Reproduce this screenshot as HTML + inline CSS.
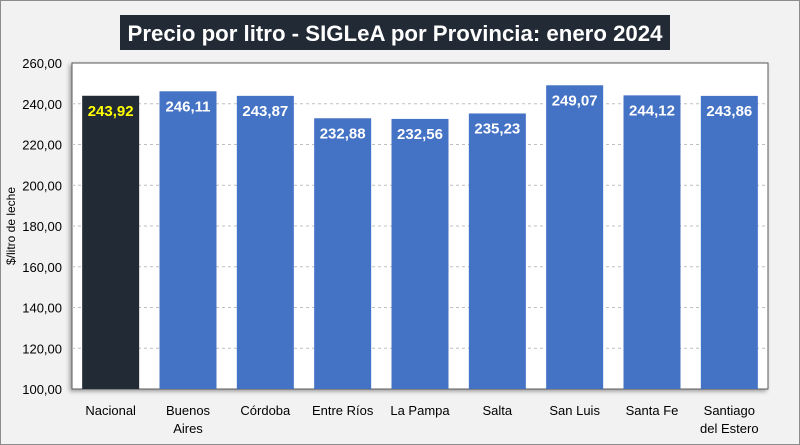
<!DOCTYPE html>
<html><head><meta charset="utf-8"><style>
body{margin:0;background:#fff}
svg{display:block;font-family:"Liberation Sans",Arial,sans-serif}
</style></head><body>
<svg width="800" height="445" viewBox="0 0 800 445">
<defs><filter id="sh" x="-5%" y="-5%" width="110%" height="110%"><feDropShadow dx="-2" dy="2" stdDeviation="2" flood-color="#000" flood-opacity="0.35"/></filter></defs>
<rect x="0.5" y="0.5" width="799" height="444" fill="#f2f2f2" stroke="#8c8c8c"/>
<rect x="120" y="15" width="550" height="35" fill="#222a35"/>
<text x="395" y="41" text-anchor="middle" font-size="22" font-weight="bold" fill="#fff" textLength="535" lengthAdjust="spacingAndGlyphs">Precio por litro - SIGLeA por Provincia: enero 2024</text>
<rect x="72" y="63" width="696" height="326" fill="#fff" stroke="#595959" stroke-width="1" filter="url(#sh)"/>
<g id="grid"></g><g id="bars"></g><g id="axes"></g>
<text transform="translate(15,226) rotate(-90)" text-anchor="middle" font-size="12" fill="#000">$/litro de leche</text>
</svg>
<script>
const categories=[["Nacional"],["Buenos","Aires"],["Córdoba"],["Entre Ríos"],["La Pampa"],["Salta"],["San Luis"],["Santa Fe"],["Santiago","del Estero"]];
const values=[243.92,246.11,243.87,232.88,232.56,235.23,249.07,244.12,243.86];
const valueLabels=["243,92","246,11","243,87","232,88","232,56","235,23","249,07","244,12","243,86"];
const yTicks=[100,120,140,160,180,200,220,240,260];
const ns="http://www.w3.org/2000/svg";
const L=72,R=768,T=63,B=389,yMin=100,yMax=260;
const y=v=>B-(v-yMin)/(yMax-yMin)*(B-T);
const cw=(R-L)/categories.length;
const xc=i=>L+cw*(i+0.5);
function mk(tag,attrs,parent,txt){const e=document.createElementNS(ns,tag);for(const k in attrs)e.setAttribute(k,attrs[k]);if(txt!=null)e.textContent=txt;document.getElementById(parent).appendChild(e);return e;}
yTicks.forEach(t=>{
  if(t>yMin&&t<yMax){const g=mk('line',{x1:L,x2:R,y1:y(t),y2:y(t),stroke:'#bfbfbf','stroke-dasharray':'3,3'},'grid');
  
  }
  const tl=mk('text',{x:62,y:y(t)+5,'text-anchor':'end','font-size':13,fill:'#000'},'axes',t.toFixed(2).replace('.',','));
  
  
});
const bw=57;
values.forEach((v,i)=>{
  const r=mk('rect',{x:xc(i)-bw/2,y:y(v),width:bw,height:B-y(v),fill:i===0?'#222a35':'#4472c4'},'bars');
  
  
  const t=mk('text',{x:xc(i),y:y(v)+20,'text-anchor':'middle','font-size':15,'font-weight':'bold',fill:i===0?'#ffff00':'#fff'},'bars',valueLabels[i]);
  
  
  categories[i].forEach((ln,j)=>{
    const c=mk('text',{x:xc(i),y:415+j*18,'text-anchor':'middle','font-size':13,fill:'#000'},'axes',ln);
    
    
  });
});
</script>
</body></html>
